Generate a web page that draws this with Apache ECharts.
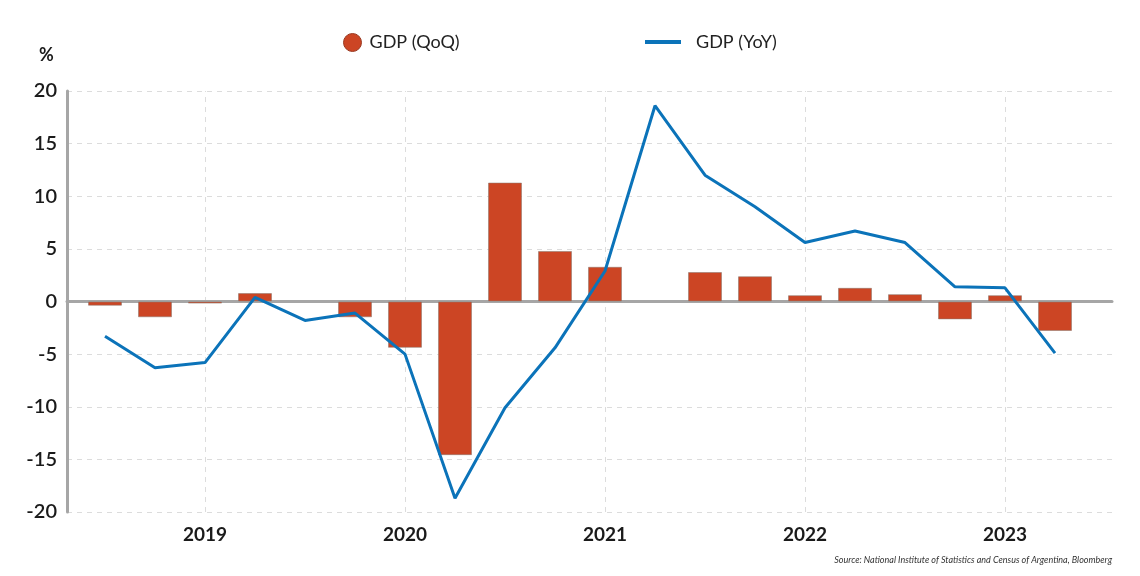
<!DOCTYPE html>
<html>
<head>
<meta charset="utf-8">
<script src="https://cdn.jsdelivr.net/npm/echarts@6/dist/echarts.min.js"></script>
<style>
html,body{margin:0;padding:0;background:#fff;}
#chart{width:1140px;height:576px;}
</style>
</head>
<body>
<div id="chart"></div>
<script>
// Quarters from 2018Q3 to 2023Q2
const quarters = ['2018Q3','2018Q4','2019Q1','2019Q2','2019Q3','2019Q4','2020Q1','2020Q2','2020Q3','2020Q4',
                  '2021Q1','2021Q2','2021Q3','2021Q4','2022Q1','2022Q2','2022Q3','2022Q4','2023Q1','2023Q2'];
const gdpQoQ = [-0.4, -1.5, -0.2, 0.8, null, -1.5, -4.4, -14.6, 11.3, 4.8,
                3.3, null, 2.8, 2.4, 0.6, 1.3, 0.7, -1.7, 0.6, -2.8];
const gdpYoY = [-3.3, -6.3, -5.8, 0.4, -1.8, -1.1, -5.0, -18.7, -10.1, -4.4,
                2.9, 18.6, 12.0, 9.0, 5.6, 6.7, 5.6, 1.4, 1.3, -4.9];
const yearTickIdx = [2, 6, 10, 14, 18];
const yearLabels = ['2019', '2020', '2021', '2022', '2023'];
const yTicks = [-20, -15, -10, -5, 0, 5, 10, 15, 20];

const chart = echarts.init(document.getElementById('chart'));
const font = 'Lato, "Open Sans", sans-serif';

chart.setOption({
  backgroundColor: '#ffffff',
  animation: false,
  textStyle: { fontFamily: font },
  legend: [
    {
      top: 28,
      left: 338,
      itemWidth: 18,
      itemHeight: 18,
      textStyle: { fontFamily: font, fontSize: 18, color: '#222', padding: [0, 0, 0, 3] },
      data: [
        { name: 'GDP (QoQ)', icon: 'circle', itemStyle: { color: '#cc4524', borderColor: '#9a3a22', borderWidth: 1 } }
      ]
    },
    {
      top: 28,
      left: 640,
      itemWidth: 36,
      itemHeight: 18,
      textStyle: { fontFamily: font, fontSize: 18, color: '#222', padding: [0, 0, 0, 10] },
      data: [
        { name: 'GDP (YoY)', icon: 'path://M0,0 L36,0 L36,4 L0,4 Z', itemStyle: { color: '#0b73b9' } }
      ]
    }
  ],
  grid: { left: 67, top: 91, right: 28, bottom: 64, containLabel: false },
  xAxis: {
    type: 'value',
    min: -0.76,
    max: 20.14,
    axisLine: { show: true, onZero: true, lineStyle: { color: '#a6a6a6', width: 3 } },
    axisTick: { show: false, customValues: yearTickIdx },
    splitLine: { show: false },
    axisLabel: {
      customValues: yearTickIdx,
      formatter: function (v) { const i = yearTickIdx.indexOf(v); return i >= 0 ? yearLabels[i] : ''; },
      fontFamily: font, fontSize: 19, fontWeight: 'bold', color: '#1a1a1a', margin: 13
    }
  },
  yAxis: {
    type: 'value',
    min: -20,
    max: 20,
    interval: 5,
    axisLine: { show: true, onZero: false, lineStyle: { color: '#a6a6a6', width: 3 } },
    axisTick: { show: false },
    axisLabel: { fontFamily: font, fontSize: 20, fontWeight: 600, color: '#1a1a1a', margin: 10,
      formatter: function (v) { return yTicks.indexOf(v) >= 0 ? String(v) : ''; } },
    splitLine: { show: true, lineStyle: { color: '#dcdcdc', type: [5, 5], width: 1 } }
  },
  graphic: [
    { type: 'text', left: 39, top: 46, style: { text: '%', fontFamily: font, fontSize: 18, fontWeight: 'bold', fill: '#1a1a1a' } },
    { type: 'text', right: 28, top: 556, style: { text: 'Source: National Institute of Statistics and Census of Argentina, Bloomberg', fontFamily: font, fontSize: 9, fontStyle: 'italic', fill: '#333' } }
  ],
  series: [
    {
      name: 'gridlines',
      type: 'line',
      data: [],
      silent: true,
      z: 0,
      markLine: {
        silent: true,
        z: 0,
        symbol: 'none',
        label: { show: false },
        lineStyle: { color: '#dcdcdc', type: [5, 5], width: 1 },
        data: yearTickIdx.map(i => ({ xAxis: i }))
      }
    },
    {
      name: 'GDP (QoQ)',
      type: 'bar',
      barWidth: 34,
      data: gdpQoQ.map((v, i) => [i, v]),
      itemStyle: { color: '#cc4524', borderColor: 'rgba(140,120,110,0.55)', borderWidth: 1 },
      z: 2
    },
    {
      name: 'GDP (YoY)',
      type: 'line',
      data: gdpYoY.map((v, i) => [i, v]),
      showSymbol: false,
      symbol: 'none',
      lineStyle: { color: '#0b73b9', width: 3 },
      itemStyle: { color: '#0b73b9' },
      z: 3
    }
  ]
});
</script>
</body>
</html>
